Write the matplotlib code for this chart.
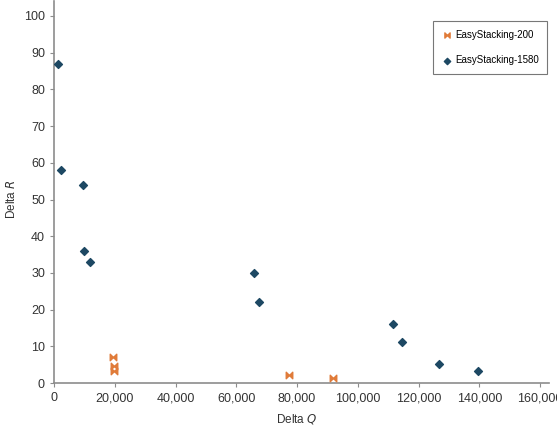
import matplotlib.pyplot as plt
import numpy as np
from matplotlib.path import Path
from matplotlib.ticker import FuncFormatter

plt.rcParams['font.family'] = ['Liberation Sans', 'DejaVu Sans']

# EasyStacking-200 (orange bowtie markers)
q200 = [19400, 19600, 19600, 77400, 91900]
r200 = [7.2, 4.6, 3.3, 2.2, 1.3]

# EasyStacking-1580 (blue diamonds)
q1580 = [1400, 2400, 9500, 10000, 11900, 65700, 67600, 111700, 114600, 126900, 139600]
r1580 = [86.9, 58.0, 54.0, 36.0, 33.0, 30.1, 22.2, 16.1, 11.2, 5.2, 3.2]

# bowtie shape: two triangles touching at the centre
bowtie = Path([(-1, 1), (0, 0), (1, 1), (1, -1), (0, 0), (-1, -1), (-1, 1)],
              [Path.MOVETO, Path.LINETO, Path.LINETO, Path.LINETO,
               Path.LINETO, Path.LINETO, Path.CLOSEPOLY])

fig = plt.figure(figsize=(5.57, 4.46), dpi=100)
ax = fig.add_axes([54/557, 63/446, (540-54)/557, (383-16)/446])

ax.scatter(q200, r200, marker=bowtie, s=22, color='#e07b39', label='EasyStacking-200', zorder=3)
ax.scatter(q1580, r1580, marker='D', s=16, color='#1d4863', label='EasyStacking-1580', zorder=3)

ax.set_xlim(0, 160000)
ax.set_ylim(0, 100)
ax.set_xticks(np.arange(0, 160001, 20000))
ax.set_yticks(np.arange(0, 101, 10))
ax.xaxis.set_major_formatter(FuncFormatter(lambda v, p: f'{int(v):,}'))

for s in ['top', 'right']:
    ax.spines[s].set_visible(False)
for s in ['left', 'bottom']:
    ax.spines[s].set_color('#8c8c8c')
    ax.spines[s].set_linewidth(1.2)
ax.spines['bottom'].set_bounds(0, 163000)
ax.spines['left'].set_bounds(0, 104)
ax.tick_params(colors='#8c8c8c', labelcolor='#333333', labelsize=9, length=3, width=0.8)

ax.set_xlabel('Delta $\\it{Q}$', fontsize=8.5, color='#333333', labelpad=6)
ax.set_ylabel('Delta $\\it{R}$', fontsize=8.5, color='#333333', labelpad=4)

leg = ax.legend(loc='upper right', bbox_to_anchor=(1.025, 1.0), fontsize=7,
                frameon=True, fancybox=False, edgecolor='#555555',
                handletextpad=0.3, labelspacing=1.6, borderpad=0.9, handlelength=1.0,
                markerscale=0.8)
leg.get_frame().set_linewidth(0.8)

fig.savefig('out.png', dpi=100)
